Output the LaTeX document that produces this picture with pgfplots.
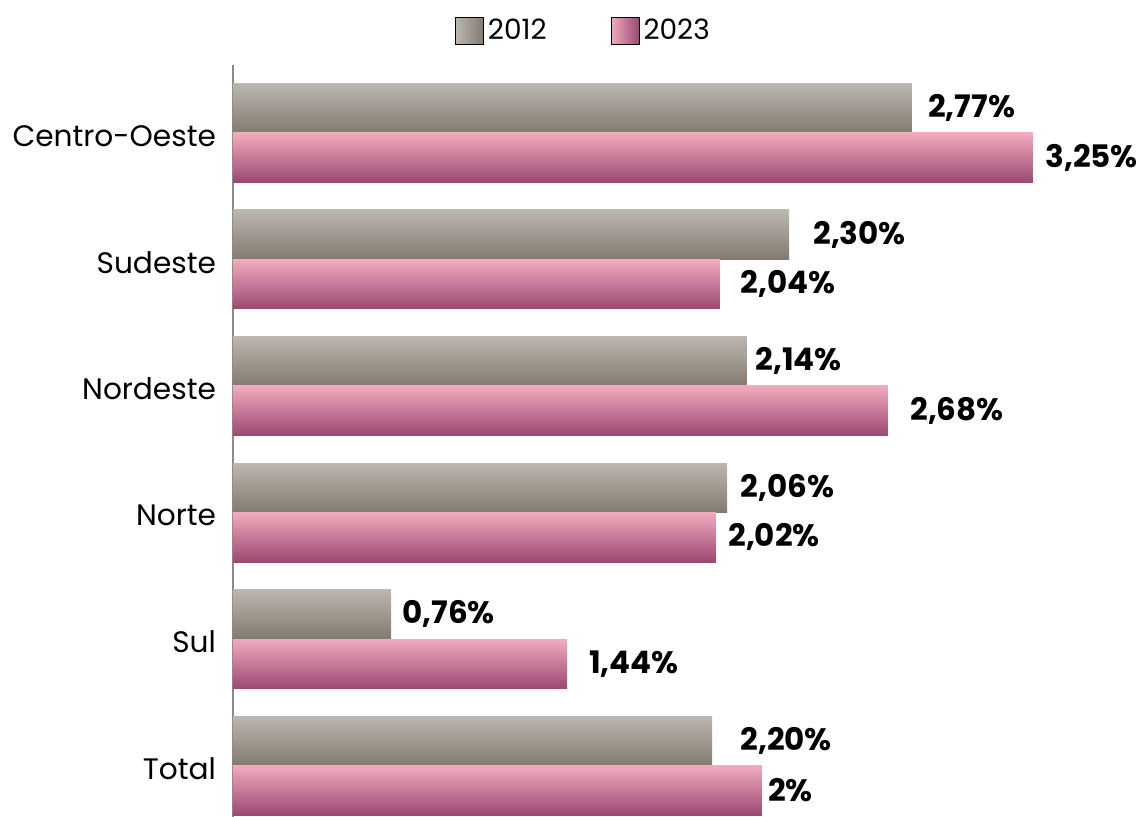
\documentclass[border=0pt]{standalone}
\usepackage{pgfplots}
\pgfplotsset{compat=1.18}
\usepackage{pgfplotstable}
\usepackage{fontspec}
\setmainfont{Poppins}

\definecolor{greyTop}{HTML}{BBB7B1}
\definecolor{greyBot}{HTML}{837A6F}
\definecolor{pinkTop}{HTML}{F2ABBD}
\definecolor{pinkBot}{HTML}{9B4873}
\definecolor{axisgrey}{HTML}{8A8A8A}

% bar lengths as drawn (labels are the published values)
\pgfplotstableread{
y  v12    v23
0  2.758  3.250
1  2.259  1.978
2  2.088  2.661
3  2.007  1.962
4  0.642  1.357
5  1.946  2.149
}\bars

% label positions and texts
\pgfplotstableread{
y  lx     lab
0  2.823  {2,77\%}
1  2.356  {2,30\%}
2  2.121  {2,14\%}
3  2.060  {2,06\%}
4  0.687  {0,76\%}
5  2.060  {2,20\%}
}\labA

\pgfplotstableread{
y  lx     lab
0  3.299  {3,25\%}
1  2.060  {2,04\%}
2  2.750  {2,68\%}
3  2.011  {2,02\%}
4  1.446  {1,44\%}
5  2.173  {2\%}
}\labB

\begin{document}
\begin{tikzpicture}
  \path[use as bounding box] (-116.5pt,0pt) rectangle (453.5pt,408.5pt);
  \begin{axis}[
      at={(0pt,0pt)}, anchor=south west,
      scale only axis,
      width=430.76pt, height=376pt,
      xmin=0, xmax=3.5,
      ymin=-0.5375, ymax=5.407,
      y dir=reverse,
      axis x line=none,
      axis y line*=left,
      axis line style={draw=axisgrey, line width=0.6pt, -},
      ytick={0,...,5},
      yticklabels={Centro-Oeste, Sudeste, Nordeste, Norte, Sul, Total},
      major tick length=0pt,
      yticklabel style={font=\fontsize{14.8}{17}\selectfont, text=black, xshift=-5pt, yshift=-1.5pt},
      clip=false,
      legend columns=2,
      legend style={
        at={(0.408,1.045)}, anchor=center,
        draw=none, fill=none,
        font=\fontsize{14}{16}\selectfont,
        /tikz/every even column/.append style={column sep=30pt},
      },
    ]
    \addlegendimage{legend image code/.code={
        \fill[left color=greyTop, right color=greyBot] (-2pt,-6.75pt) rectangle (12pt,6.75pt);}}
    \addlegendentry{2012}
    \addlegendimage{legend image code/.code={
        \fill[left color=pinkTop, right color=pinkBot] (-2pt,-6.75pt) rectangle (12pt,6.75pt);}}
    \addlegendentry{2023}

    % one plot per bar so that each bar gets its own vertical gradient
    \pgfplotsinvokeforeach{0,...,5}{
      \addplot[xbar, bar width=24.75pt, bar shift=12.375pt, draw=none, forget plot,
        top color=greyTop, bottom color=greyBot,
        y filter/.expression={abs(y-#1)<0.1 ? y : nan}]
        table[x=v12, y=y] {\bars};
      \addplot[xbar, bar width=24.75pt, bar shift=-12.375pt, draw=none, forget plot,
        top color=pinkTop, bottom color=pinkBot,
        y filter/.expression={abs(y-#1)<0.1 ? y : nan}]
        table[x=v23, y=y] {\bars};
    }

    \addplot[draw=none, mark=none, forget plot,
      nodes near coords, point meta=explicit symbolic,
      every node near coord/.append style={anchor=west, inner sep=0pt, yshift=12.375pt,
        font=\bfseries\fontsize{15.5}{18}\selectfont, text=black}]
      table[x=lx, y=y, meta=lab] {\labA};
    \addplot[draw=none, mark=none, forget plot,
      nodes near coords, point meta=explicit symbolic,
      every node near coord/.append style={anchor=west, inner sep=0pt, yshift=-12.375pt,
        font=\bfseries\fontsize{15.5}{18}\selectfont, text=black}]
      table[x=lx, y=y, meta=lab] {\labB};
  \end{axis}
\end{tikzpicture}
\end{document}
